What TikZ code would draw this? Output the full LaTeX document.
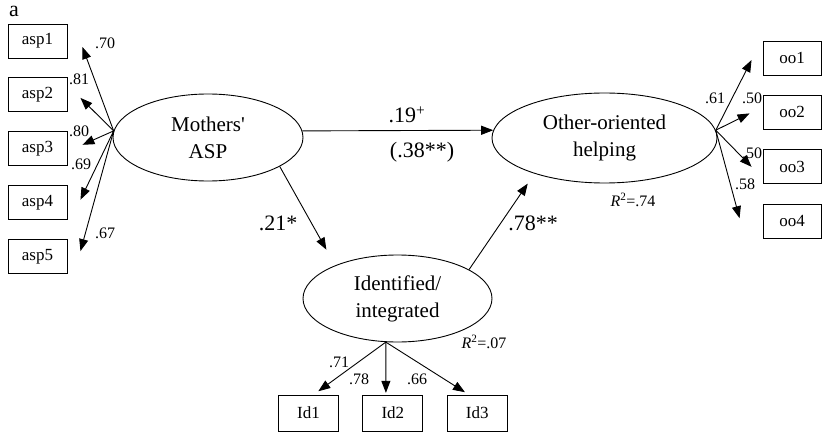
\documentclass[tikz,border=0pt]{standalone}
\usepackage{fontspec}
\setmainfont{Liberation Serif}
\usetikzlibrary{positioning,arrows.meta,shapes.geometric}

\begin{document}
\begin{tikzpicture}[x=1pt, y=1pt, line width=0.9pt,
        latent/.style={ellipse, draw, inner sep=0pt, align=center, font=\fontsize{21}{27}\selectfont},
        indicator/.style={rectangle, draw, minimum width=59pt, minimum height=34pt, inner sep=0pt, font=\fontsize{17}{20}\selectfont},
        loading/.style={inner sep=0pt, font=\fontsize{16}{18}\selectfont},
        coef/.style={inner sep=0pt, font=\fontsize{22}{24}\selectfont},
        >={Triangle[length=12pt,width=9pt]}
    ]
    \useasboundingbox (0,0) rectangle (822,-433);

    % Latent variables
    \node[latent, minimum width=190pt, minimum height=87pt] (mot) at (208,-137.5) {Mothers\textquotesingle\\ASP};
    \node[latent, minimum width=225pt, minimum height=90pt] (oth) at (604.5,-138) {Other-oriented\\helping};
    \node[latent, minimum width=189pt, minimum height=87pt] (id) at (397.5,-298.5) {Identified/\\integrated};

    % Indicators
    \node[indicator] (asp1) at (37.5,-41) {asp1};
    \node[indicator, below=19pt of asp1] (asp2) {asp2};
    \node[indicator, below=19pt of asp2] (asp3) {asp3};
    \node[indicator, below=19pt of asp3] (asp4) {asp4};
    \node[indicator, below=19pt of asp4] (asp5) {asp5};
    \node[indicator, minimum width=58pt] (oo1) at (792,-58) {oo1};
    \node[indicator, minimum width=58pt, below=19.5pt of oo1] (oo2) {oo2};
    \node[indicator, minimum width=58pt, below=19.5pt of oo2] (oo3) {oo3};
    \node[indicator, minimum width=58pt, below=19.5pt of oo3] (oo4) {oo4};
    \node[indicator, minimum width=60pt, minimum height=36pt] (id1) at (308.5,-413) {Id1};
    \node[indicator, minimum width=60pt, minimum height=36pt, right=23.5pt of id1] (id2) {Id2};
    \node[indicator, minimum width=60pt, minimum height=36pt, right=23.5pt of id2] (id3) {Id3};

    % Structural paths
    \draw[->] (mot.4.5) -- (oth.176);
    \draw[->, shorten >=18pt] (mot.338.6) -- (id.152);
    \draw[->, shorten >=12pt] (id.22.1) -- (oth.207);

    % Measurement paths
    \foreach \i/\dx/\dy in {1/15/-6, 2/13/-3, 3/15/4, 4/13/3, 5/13/5.5}
        \draw[->] (mot.176) -- ([shift={(\dx,\dy)}]asp\i.east);
    \foreach \i/\dx/\dy in {1/-11/-2, 2/-13/-1, 3/-11/0, 4/-23/3}
        \draw[->] (oth.4.5) -- ([shift={(\dx,\dy)}]oo\i.west);
    \foreach \i/\dx/\dy in {1/9.8/3.3, 2/-7/1.7, 3/-12.3/2.3}
        \draw[->] (id.255) -- ([shift={(\dx,\dy)}]id\i.north);

    % Labels
    \node[font=\fontsize{22}{24}\selectfont, inner sep=0pt] (panel) at (14,-11.5) {a};
    \node[coef] (c-direct) at (407,-115) {.19\textsuperscript{+}};
    \node[coef] (c-total) at (422,-152) {(.38**)};
    \node[coef] (c-a) at (278,-223) {.21*};
    \node[coef] (c-b) at (533,-223) {.78**};
    \node[loading] (r2-oth) at (633,-200) {\textit{R}\textsuperscript{2}=.74};
    \node[loading] (r2-id) at (484,-342) {\textit{R}\textsuperscript{2}=.07};
    \node[loading] (l-asp1) at (105,-43) {.70};
    \node[loading] (l-asp2) at (79,-79) {.81};
    \node[loading] (l-asp3) at (79,-131) {.80};
    \node[loading] (l-asp4) at (81,-164) {.69};
    \node[loading] (l-asp5) at (105,-233) {.67};
    \node[loading] (l-oo1) at (715,-98) {.61};
    \node[loading] (l-oo2) at (752,-98) {.50};
    \node[loading] (l-oo3) at (752,-153) {.50};
    \node[loading] (l-oo4) at (745,-184) {.58};
    \node[loading] (l-id1) at (339,-362) {.71};
    \node[loading] (l-id2) at (359,-379.5) {.78};
    \node[loading] (l-id3) at (417,-379.5) {.66};

\end{tikzpicture}
\end{document}
